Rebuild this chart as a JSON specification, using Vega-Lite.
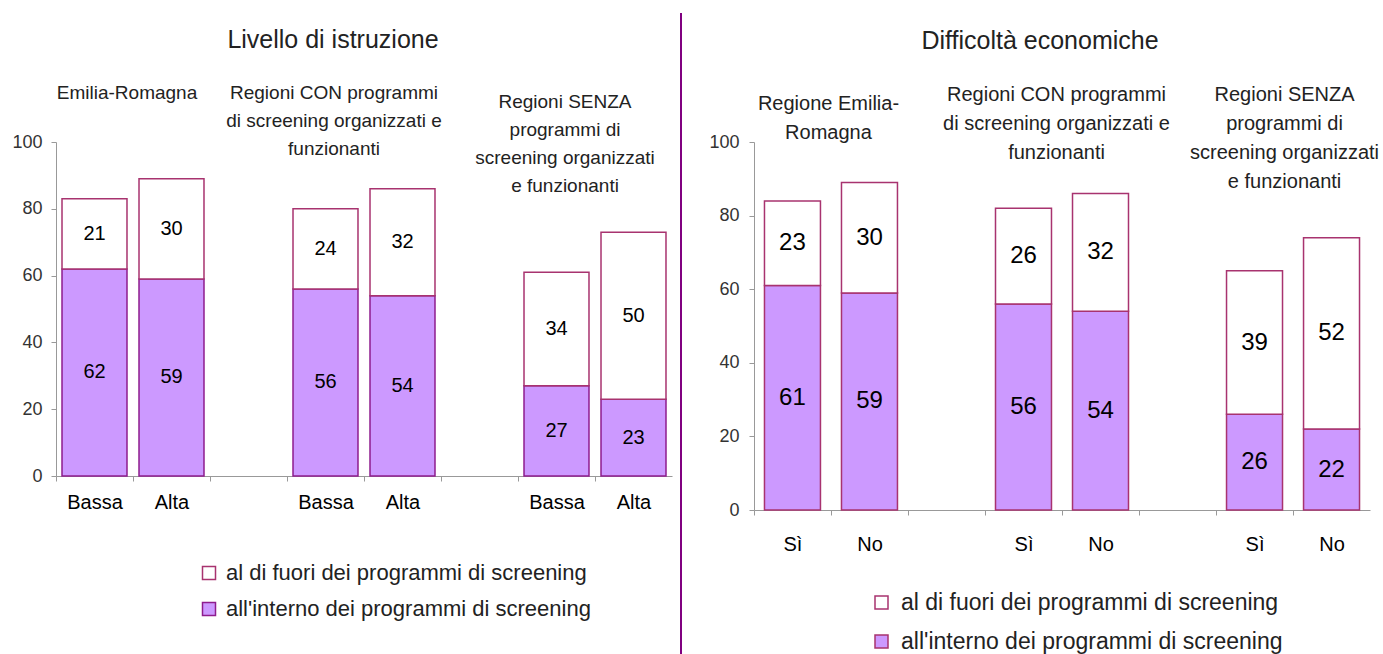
{
  "$schema": "https://vega.github.io/schema/vega-lite/v6.json",
  "padding": {"left": 11, "top": 11, "right": 0, "bottom": 0},
  "spacing": 8,
  "align": "none",
  "config": {
    "view": {"stroke": null},
    "font": "Liberation Sans",
    "text": {"font": "Liberation Sans"},
    "title": {"font": "Liberation Sans", "fontWeight": "normal", "color": "#222"}
  },
  "datasets": {
    "L": [
      {"cat": "EM|Bassa", "seg": "all'interno dei programmi di screening", "v": 62},
      {"cat": "EM|Bassa", "seg": "al di fuori dei programmi di screening", "v": 21},
      {"cat": "EM|Alta", "seg": "all'interno dei programmi di screening", "v": 59},
      {"cat": "EM|Alta", "seg": "al di fuori dei programmi di screening", "v": 30},
      {"cat": "CON|Bassa", "seg": "all'interno dei programmi di screening", "v": 56},
      {"cat": "CON|Bassa", "seg": "al di fuori dei programmi di screening", "v": 24},
      {"cat": "CON|Alta", "seg": "all'interno dei programmi di screening", "v": 54},
      {"cat": "CON|Alta", "seg": "al di fuori dei programmi di screening", "v": 32},
      {"cat": "SENZA|Bassa", "seg": "all'interno dei programmi di screening", "v": 27},
      {"cat": "SENZA|Bassa", "seg": "al di fuori dei programmi di screening", "v": 34},
      {"cat": "SENZA|Alta", "seg": "all'interno dei programmi di screening", "v": 23},
      {"cat": "SENZA|Alta", "seg": "al di fuori dei programmi di screening", "v": 50}
    ],
    "R": [
      {"cat": "EM|Sì", "seg": "all'interno dei programmi di screening", "v": 61},
      {"cat": "EM|Sì", "seg": "al di fuori dei programmi di screening", "v": 23},
      {"cat": "EM|No", "seg": "all'interno dei programmi di screening", "v": 59},
      {"cat": "EM|No", "seg": "al di fuori dei programmi di screening", "v": 30},
      {"cat": "CON|Sì", "seg": "all'interno dei programmi di screening", "v": 56},
      {"cat": "CON|Sì", "seg": "al di fuori dei programmi di screening", "v": 26},
      {"cat": "CON|No", "seg": "all'interno dei programmi di screening", "v": 54},
      {"cat": "CON|No", "seg": "al di fuori dei programmi di screening", "v": 32},
      {"cat": "SENZA|Sì", "seg": "all'interno dei programmi di screening", "v": 26},
      {"cat": "SENZA|Sì", "seg": "al di fuori dei programmi di screening", "v": 39},
      {"cat": "SENZA|No", "seg": "all'interno dei programmi di screening", "v": 22},
      {"cat": "SENZA|No", "seg": "al di fuori dei programmi di screening", "v": 52}
    ],
    "SEP": [{"p": 0}]
  },
  "resolve": {
    "scale": {"x": "independent", "y": "independent", "fill": "independent", "stroke": "independent"},
    "legend": {"fill": "independent", "stroke": "independent"}
  },
  "hconcat": [
    {
      "width": 616,
      "height": 334,
      "title": {"text": "Livello di istruzione", "fontSize": 25, "offset": 31, "frame": "group", "dx": -31, "anchor": "middle"},
      "layer": [
        {
          "data": {"name": "L"},
          "mark": {"type": "bar", "strokeWidth": 1.5},
          "encoding": {
            "x": {"field": "cat", "type": "nominal", "title": null,
              "scale": {"domain": ["EM|Bassa", "EM|Alta", "g1", "CON|Bassa", "CON|Alta", "g2", "SENZA|Bassa", "SENZA|Alta"], "paddingInner": 0.156, "paddingOuter": 0.078},
              "axis": {"labelExpr": "split(datum.value, '|')[1] || ''", "labelAngle": 0, "labelFontSize": 20, "labelColor": "#000", "labelPadding": 11, "tickSize": 5, "tickColor": "#999", "domainColor": "#999", "bandPosition": 0, "tickOffset": -6, "labelOffset": 6}},
            "y": {"field": "v", "type": "quantitative", "stack": "zero", "title": null,
              "scale": {"domain": [0, 100]},
              "axis": {"values": [0, 20, 40, 60, 80, 100], "grid": false, "tickSize": 5, "labelPadding": 9, "labelFontSize": 18, "labelColor": "#333", "tickColor": "#999", "domainColor": "#999"}},
            "fill": {"field": "seg", "type": "nominal",
              "scale": {"domain": ["al di fuori dei programmi di screening", "all'interno dei programmi di screening"], "range": ["#ffffff", "#cc99ff"]},
              "legend": {"title": null, "orient": "none", "legendX": 142, "legendY": 420, "direction": "vertical", "symbolType": "square", "symbolSize": 169, "symbolStrokeWidth": 1.5, "labelFontSize": 22, "labelColor": "#222", "rowPadding": 14, "labelOffset": 6, "labelLimit": 600}},
            "stroke": {"field": "seg", "type": "nominal",
              "scale": {"domain": ["al di fuori dei programmi di screening", "all'interno dei programmi di screening"], "range": ["#a8336f", "#8e1c8e"]},
              "legend": {"title": null, "orient": "none", "legendX": 142, "legendY": 420, "direction": "vertical", "symbolType": "square", "symbolSize": 169, "symbolStrokeWidth": 1.5, "labelFontSize": 22, "labelColor": "#222", "rowPadding": 14, "labelOffset": 6, "labelLimit": 600}},
            "order": {"field": "seg", "sort": "descending"}
          }
        },
        {
          "data": {"name": "L"},
          "mark": {"type": "text", "fontSize": 20, "color": "#000", "baseline": "middle"},
          "encoding": {
            "x": {"field": "cat", "type": "nominal"},
            "y": {"field": "v", "type": "quantitative", "stack": "zero", "bandPosition": 0.5},
            "detail": {"field": "seg"},
            "order": {"field": "seg", "sort": "descending"},
            "text": {"field": "v", "type": "quantitative"}
          }
        },
        {
          "data": {"values": [{"t": "Emilia-Romagna", "k": "EM|Alta"}]},
          "mark": {"type": "text", "fontSize": 19, "color": "#222", "baseline": "top", "lineHeight": 28, "lineBreak": "\n", "dx": -12},
          "encoding": {
            "x": {"field": "k", "type": "nominal", "bandPosition": 0},
            "y": {"datum": 117.4, "type": "quantitative"},
            "text": {"field": "t"}
          }
        },
        {
          "data": {"values": [{"t": "Regioni CON programmi\ndi screening organizzati e\nfunzionanti", "k": "CON|Alta"}]},
          "mark": {"type": "text", "fontSize": 19, "color": "#222", "baseline": "top", "lineHeight": 28, "lineBreak": "\n", "dx": -36},
          "encoding": {
            "x": {"field": "k", "type": "nominal", "bandPosition": 0},
            "y": {"datum": 117.4, "type": "quantitative"},
            "text": {"field": "t"}
          }
        },
        {
          "data": {"values": [{"t": "Regioni SENZA\nprogrammi di\nscreening organizzati\ne funzionanti", "k": "SENZA|Alta"}]},
          "mark": {"type": "text", "fontSize": 19, "color": "#222", "baseline": "top", "lineHeight": 28, "lineBreak": "\n", "dx": -36},
          "encoding": {
            "x": {"field": "k", "type": "nominal", "bandPosition": 0},
            "y": {"datum": 114.7, "type": "quantitative"},
            "text": {"field": "t"}
          }
        }
      ]
    },
    {
      "width": 1,
      "height": 512,
      "data": {"name": "SEP"},
      "mark": {"type": "rule", "color": "#800080", "strokeWidth": 2},
      "encoding": {
        "x": {"field": "p", "type": "quantitative", "axis": null, "scale": {"domain": [0, 1]}},
        "y": {"datum": 0, "type": "quantitative", "axis": null, "scale": {"domain": [0, 1]}},
        "y2": {"datum": 1.252}
      }
    },
    {
      "width": 616,
      "height": 368,
      "title": {"text": "Difficoltà economiche", "fontSize": 25, "offset": 31, "frame": "group", "dx": -22, "anchor": "middle"},
      "layer": [
        {
          "data": {"name": "R"},
          "mark": {"type": "bar", "strokeWidth": 1.5},
          "encoding": {
            "x": {"field": "cat", "type": "nominal", "title": null,
              "scale": {"domain": ["EM|Sì", "EM|No", "g1", "CON|Sì", "CON|No", "g2", "SENZA|Sì", "SENZA|No"], "paddingInner": 0.273, "paddingOuter": 0.136},
              "axis": {"labelExpr": "split(datum.value, '|')[1] || ''", "labelAngle": 0, "labelFontSize": 20, "labelColor": "#000", "labelPadding": 19, "tickSize": 5, "tickColor": "#999", "domainColor": "#999", "bandPosition": 0, "tickOffset": -10.5, "labelOffset": 10.5}},
            "y": {"field": "v", "type": "quantitative", "stack": "zero", "title": null,
              "scale": {"domain": [0, 100]},
              "axis": {"values": [0, 20, 40, 60, 80, 100], "grid": false, "tickSize": 5, "labelPadding": 10, "labelFontSize": 18, "labelColor": "#333", "tickColor": "#999", "domainColor": "#999", "minExtent": 64}},
            "fill": {"field": "seg", "type": "nominal",
              "scale": {"domain": ["al di fuori dei programmi di screening", "all'interno dei programmi di screening"], "range": ["#ffffff", "#cc99ff"]},
              "legend": {"title": null, "orient": "none", "legendX": 116, "legendY": 449, "direction": "vertical", "symbolType": "square", "symbolSize": 169, "symbolStrokeWidth": 1.5, "labelFontSize": 23, "labelColor": "#222", "rowPadding": 15, "labelOffset": 8, "labelLimit": 600}},
            "stroke": {"field": "seg", "type": "nominal",
              "scale": {"domain": ["al di fuori dei programmi di screening", "all'interno dei programmi di screening"], "range": ["#a8336f", "#a8336f"]},
              "legend": {"title": null, "orient": "none", "legendX": 116, "legendY": 449, "direction": "vertical", "symbolType": "square", "symbolSize": 169, "symbolStrokeWidth": 1.5, "labelFontSize": 23, "labelColor": "#222", "rowPadding": 15, "labelOffset": 8, "labelLimit": 600}},
            "order": {"field": "seg", "sort": "descending"}
          }
        },
        {
          "data": {"name": "R"},
          "mark": {"type": "text", "fontSize": 24, "color": "#000", "baseline": "middle"},
          "encoding": {
            "x": {"field": "cat", "type": "nominal"},
            "y": {"field": "v", "type": "quantitative", "stack": "zero", "bandPosition": 0.5},
            "detail": {"field": "seg"},
            "order": {"field": "seg", "sort": "descending"},
            "text": {"field": "v", "type": "quantitative"}
          }
        },
        {
          "data": {"values": [{"t": "Regione Emilia-\nRomagna", "k": "EM|No"}]},
          "mark": {"type": "text", "fontSize": 20, "color": "#222", "baseline": "top", "lineHeight": 29, "lineBreak": "\n", "dx": -13},
          "encoding": {
            "x": {"field": "k", "type": "nominal", "bandPosition": 0},
            "y": {"datum": 113.0, "type": "quantitative"},
            "text": {"field": "t"}
          }
        },
        {
          "data": {"values": [{"t": "Regioni CON programmi\ndi screening organizzati e\nfunzionanti", "k": "CON|No"}]},
          "mark": {"type": "text", "fontSize": 20, "color": "#222", "baseline": "top", "lineHeight": 29, "lineBreak": "\n", "dx": -16},
          "encoding": {
            "x": {"field": "k", "type": "nominal", "bandPosition": 0},
            "y": {"datum": 115.5, "type": "quantitative"},
            "text": {"field": "t"}
          }
        },
        {
          "data": {"values": [{"t": "Regioni SENZA\nprogrammi di\nscreening organizzati\ne funzionanti", "k": "SENZA|No"}]},
          "mark": {"type": "text", "fontSize": 20, "color": "#222", "baseline": "top", "lineHeight": 29, "lineBreak": "\n", "dx": -19},
          "encoding": {
            "x": {"field": "k", "type": "nominal", "bandPosition": 0},
            "y": {"datum": 115.5, "type": "quantitative"},
            "text": {"field": "t"}
          }
        }
      ]
    }
  ]
}
